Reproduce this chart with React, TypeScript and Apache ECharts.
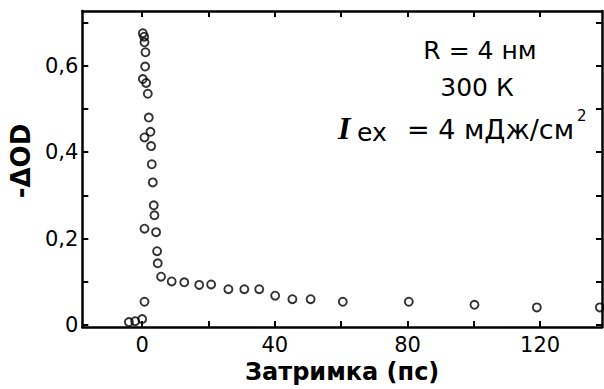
import React, { useEffect, useRef } from "react";
import * as echarts from "echarts";

// Delay (ps) and -ΔOD values
const delays = [
  -4.0, -2.1, 0.0, 0.7,
  0.2, 0.6, 0.7, 1.0, 0.9, 0.2, 1.2, 1.7, 2.0, 2.5, 0.7, 2.7, 2.9, 3.2, 3.5, 3.7, 0.7,
  4.2, 4.5, 4.7, 5.7, 8.9, 12.7, 17.2, 20.8, 26.0, 30.8, 35.3, 40.1, 45.3, 50.8, 60.5,
  80.4, 100.2, 119.0, 138.0,
];
const deltaOD = [
  0.007, 0.009, 0.014, 0.054,
  0.675, 0.667, 0.654, 0.631, 0.598, 0.569, 0.56, 0.535, 0.48, 0.447, 0.434, 0.414, 0.372, 0.33, 0.277, 0.254, 0.223,
  0.215, 0.171, 0.143, 0.112, 0.101, 0.099, 0.093, 0.094, 0.083, 0.083, 0.083, 0.068, 0.06, 0.06, 0.054,
  0.054, 0.047, 0.041, 0.041,
];

const xTickValues = [0, 20, 40, 60, 80, 100, 120];
const xLabelValues = [0, 40, 80, 120];
const yTickValues = [0, 0.1, 0.2, 0.3, 0.4, 0.5, 0.6, 0.7];
const yLabelValues = [0, 0.2, 0.4, 0.6];

const xTitle = "Затримка (пс)";
const yTitle = "-ΔOD";
const noteLines = ["R = 4 нм", "300 К"];

export default function App() {
  const ref = useRef<HTMLDivElement>(null);
  useEffect(() => {
    const chart = echarts.init(ref.current!, null, { renderer: "svg" });
    const font = "DejaVu Sans";
    const xMin = -18.05;
    const xMax = 138.65;
    const yMin = -0.0046;
    const yMax = 0.7264;
    const axisLine = { show: true, onZero: false, lineStyle: { color: "#000", width: 2.5 } };
    const fmt = (v: number) => (v === 0 ? "0" : Number(v).toFixed(1).replace(".", ","));
    chart.setOption({
      animation: false,
      backgroundColor: "#fff",
      grid: { left: 81, top: 11, right: 2, bottom: 60, containLabel: false },
      xAxis: [
        {
          type: "value",
          min: xMin,
          max: xMax,
          position: "bottom",
          axisLine,
          axisTick: { show: true, inside: true, length: 6, lineStyle: { color: "#000", width: 2 }, customValues: xTickValues },
          axisLabel: { customValues: xLabelValues, fontFamily: font, fontSize: 21, color: "#000", margin: 7 },
          splitLine: { show: false },
          name: xTitle,
          nameLocation: "middle",
          nameGap: 27,
          nameTextStyle: { fontFamily: font, fontWeight: "bold", fontSize: 24, color: "#000" },
        },
        {
          type: "value",
          min: xMin,
          max: xMax,
          position: "top",
          axisLine,
          axisTick: { show: true, inside: true, length: 6, lineStyle: { color: "#000", width: 2 }, customValues: xTickValues },
          axisLabel: { show: false },
          splitLine: { show: false },
        },
      ],
      yAxis: [
        {
          type: "value",
          min: yMin,
          max: yMax,
          position: "left",
          axisLine,
          axisTick: { show: true, inside: true, length: 6, lineStyle: { color: "#000", width: 2 }, customValues: yTickValues },
          axisLabel: { customValues: yLabelValues, fontFamily: font, fontSize: 21, color: "#000", margin: 4, formatter: fmt },
          splitLine: { show: false },
          name: yTitle,
          nameLocation: "middle",
          nameGap: 42,
          nameTextStyle: { fontFamily: font, fontWeight: "bold", fontSize: 26, color: "#000", padding: [0, 0, 0, 16] },
        },
        {
          type: "value",
          min: yMin,
          max: yMax,
          position: "right",
          axisLine,
          axisTick: { show: true, inside: true, length: 6, lineStyle: { color: "#000", width: 2 }, customValues: yTickValues },
          axisLabel: { show: false },
          splitLine: { show: false },
        },
      ],
      series: [
        {
          type: "scatter",
          xAxisIndex: 0,
          yAxisIndex: 0,
          clip: false,
          symbol: "circle",
          symbolSize: 8,
          itemStyle: { color: "rgba(0,0,0,0)", borderColor: "#000", borderWidth: 1.9 },
          data: delays.map((d, i) => [d, deltaOD[i]]),
        },
      ],
      graphic: [
        {
          type: "text",
          style: { x: 480, y: 50, text: noteLines[0], align: "center", verticalAlign: "middle", fontFamily: font, fontSize: 25, fill: "#000" },
        },
        {
          type: "text",
          style: { x: 477, y: 87, text: noteLines[1], align: "center", verticalAlign: "middle", fontFamily: font, fontSize: 25, fill: "#000" },
        },
        {
          type: "text",
          style: { x: 338, y: 128, text: "I", align: "left", verticalAlign: "middle", fontFamily: "Liberation Serif", fontStyle: "italic", fontWeight: "bold", fontSize: 32, fill: "#000" },
        },
        {
          type: "text",
          style: { x: 357, y: 132, text: "ex", align: "left", verticalAlign: "middle", fontFamily: font, fontSize: 25, fill: "#000" },
        },
        {
          type: "text",
          style: { x: 407, y: 129, text: "= 4 мДж/см", align: "left", verticalAlign: "middle", fontFamily: font, fontSize: 27, fill: "#000" },
        },
        {
          type: "text",
          style: { x: 577, y: 116, text: "2", align: "left", verticalAlign: "middle", fontFamily: font, fontSize: 15, fill: "#000" },
        },
      ],
    });
    return () => chart.dispose();
  }, []);
  return <div ref={ref} style={{ position: "absolute", left: 0, top: 0, width: 604, height: 389 }} />;
}
